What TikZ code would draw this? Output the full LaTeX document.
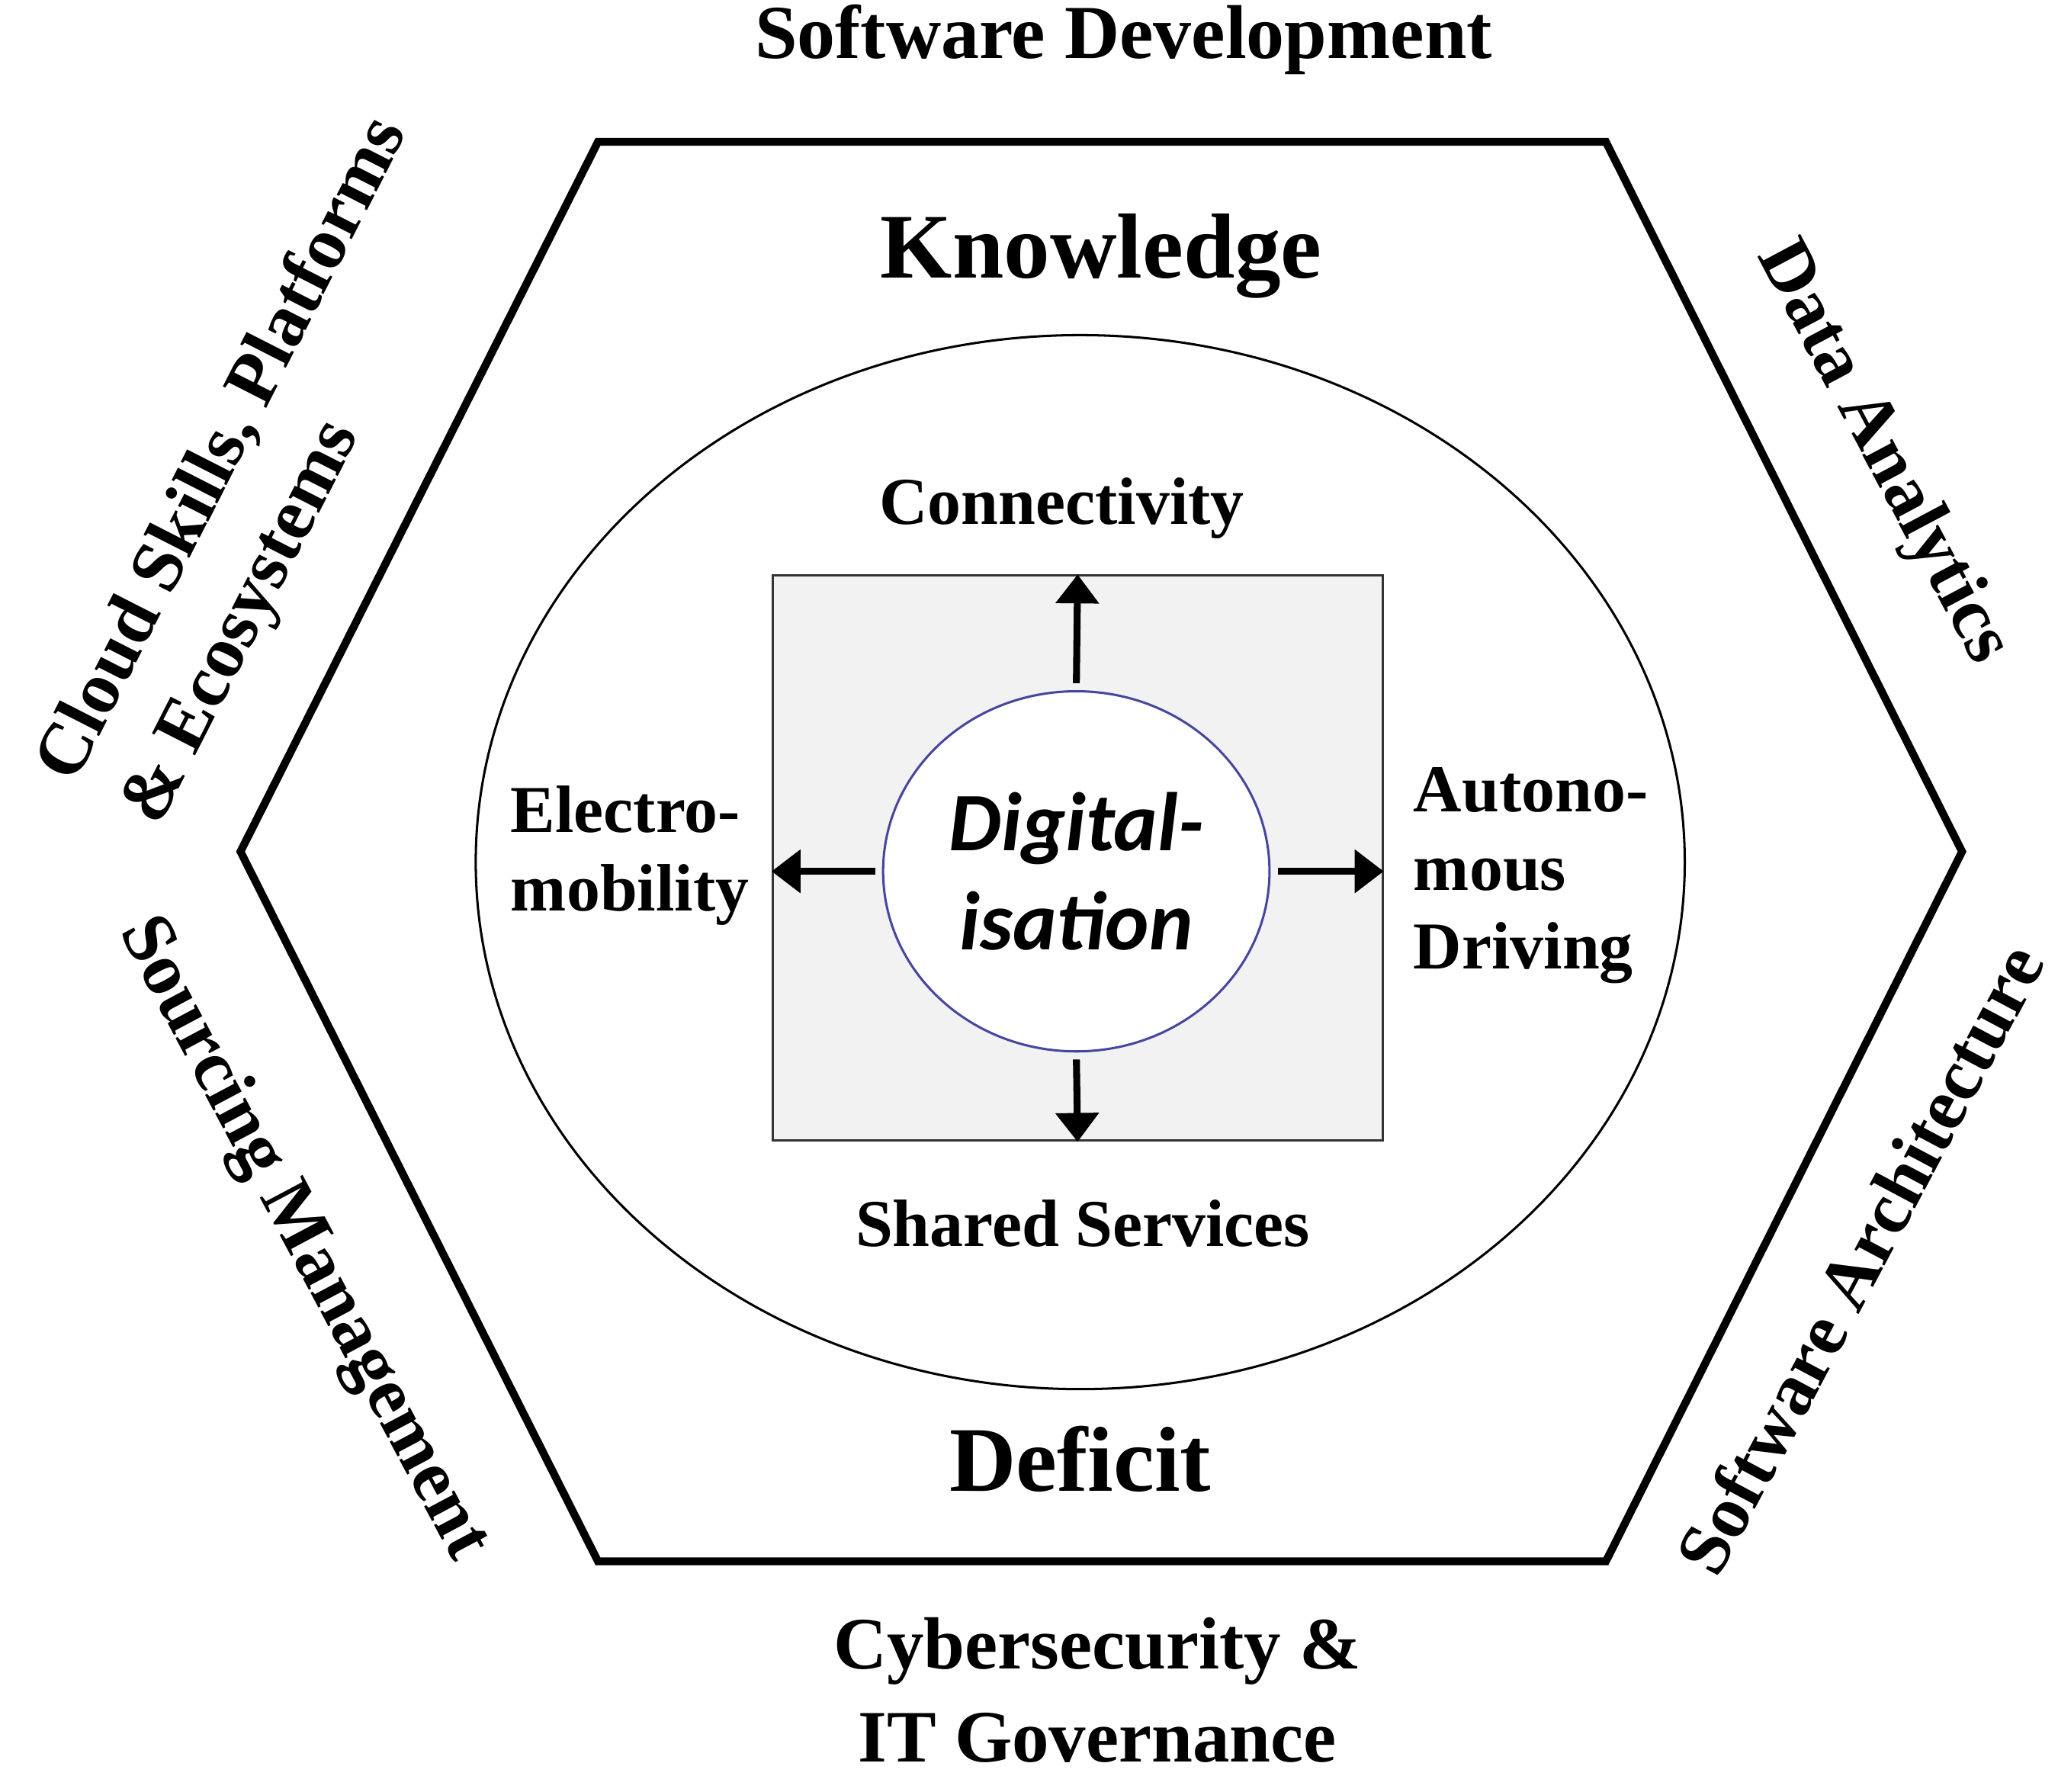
\documentclass[tikz,border=0pt]{standalone}
\usepackage{fontspec}
\setmainfont{Liberation Serif}
\newfontfamily\digifont{Carlito}
\definecolor{boxgray}{RGB}{242, 242, 242}
\definecolor{ringblue}{RGB}{70, 70, 160}
\usetikzlibrary{shapes, arrows.meta, positioning, calc}

\begin{document}
\begin{tikzpicture}[
  sidelabel/.style={font=\fontsize{16.5}{20.5}\selectfont\bfseries, align=center},
  rotlabel/.style={font=\fontsize{16}{20.5}\selectfont\bfseries, align=center, inner sep=1pt},
  biglabel/.style={font=\fontsize{20}{24}\selectfont\bfseries},
  arealabel/.style={font=\fontsize{14.5}{17}\selectfont\bfseries, align=left},
  ray/.style={-{Triangle[length=0.22cm, width=0.32cm]}, line width=1.5pt, shorten <=1.5pt}
]
  \useasboundingbox (0, 0) rectangle (15.66, 13.63);

  % Hexagon
  \coordinate (h1) at (4.55, 12.55);
  \coordinate (h2) at (12.22, 12.55);
  \coordinate (h3) at (14.93, 7.15);
  \coordinate (h4) at (12.22, 1.75);
  \coordinate (h5) at (4.55, 1.75);
  \coordinate (h6) at (1.83, 7.15);
  \draw[line width=1.7pt, line join=miter] (h1) -- (h2) -- (h3) -- (h4) -- (h5) -- (h6) -- cycle;

  % Rings and box
  \node[draw, ellipse, line width=0.5pt, minimum width=9.2cm, minimum height=8.02cm, inner sep=0pt] (ring) at (8.22, 7.07) {};
  \node[draw=black!80, fill=boxgray, line width=0.5pt, minimum width=4.64cm, minimum height=4.3cm, inner sep=0pt] (box) at (8.20, 7.10) {};
  \node[draw=ringblue, fill=white, ellipse, line width=0.5pt, minimum width=2.94cm, minimum height=2.74cm, inner sep=0pt,
        font=\digifont\fontsize{18}{21.5}\selectfont\bfseries\itshape, align=center] (dig) at (8.19, 7.00) {Digital-\\isation};

  % Rays
  \draw[ray] (dig.north) -- (box.north);
  \draw[ray] (dig.south) -- (box.south);
  \draw[ray] (dig.west) -- (dig.west -| box.west);
  \draw[ray] (dig.east) -- (dig.east -| box.east);

  % Inner labels
  \node[biglabel] (know) at (8.38, 11.68) {Knowledge};
  \node[biglabel] (deficit) at (8.22, 2.53) {Deficit};
  \node[arealabel] (conn) at (8.08, 9.76) {Connectivity};
  \node[arealabel] (shared) at (8.24, 4.32) {Shared Services};
  \node[arealabel, anchor=west, inner sep=0pt] (emob) at (3.88, 7.12) {Electro-\\mobility};
  \node[arealabel, anchor=west, inner sep=0pt] (auto) at (10.75, 6.97) {Autono-\\mous\\Driving};

  % Outer labels
  \node[sidelabel] (swdev) at (8.55, 13.33) {Software Development};
  \node[sidelabel, font=\fontsize{16}{20}\selectfont\bfseries] (cyber) at (8.35, 0.77) {Cybersecurity \&\\IT Governance};
  \node[rotlabel, align=left, rotate=63] (cloud) at (2.03, 10.04) {Cloud Skills, Platforms\\\& Ecosystems};
  \node[rotlabel, rotate=-62] (data) at (14.32, 10.18) {Data Analytics};
  \node[rotlabel, rotate=-62] (sourcing) at (2.30, 4.20) {Sourcing Management};
  \node[rotlabel, rotate=62] (swarch) at (14.15, 4.05) {Software Architecture};
\end{tikzpicture}
\end{document}
